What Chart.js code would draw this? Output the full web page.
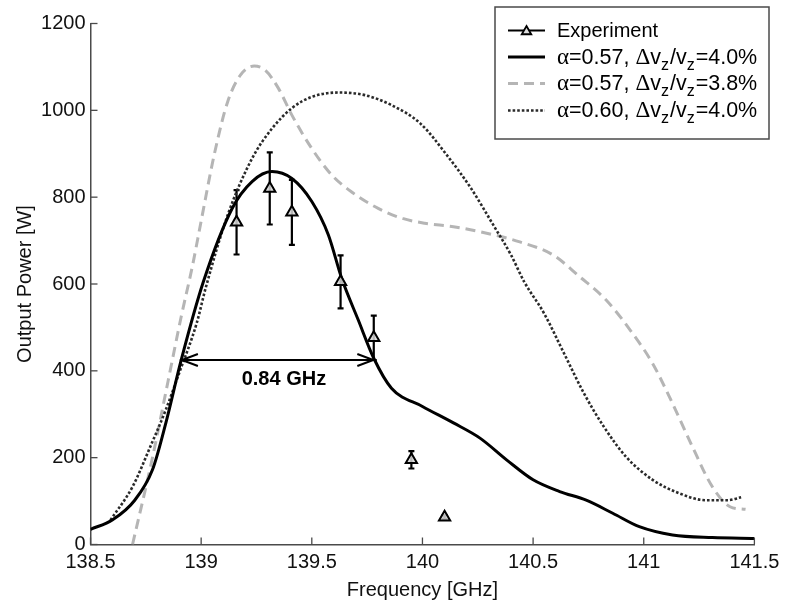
<!DOCTYPE html>
<html><head><meta charset="utf-8">
<script src="https://cdn.jsdelivr.net/npm/chart.js@4.4.1/dist/chart.umd.min.js"></script>
<style>html,body{margin:0;padding:0;background:#fff;}canvas{display:block;}</style>
</head><body>
<canvas id="c" width="787" height="606"></canvas>
<script>
// ---- data ----
const xTickLabels = ['138.5','139','139.5','140','140.5','141','141.5'];
const yTickLabels = ['0','200','400','600','800','1000','1200'];

const expFreq  = [139.16, 139.31, 139.41, 139.63, 139.78, 139.95, 140.10];
const expPower = [742, 820, 765, 605, 476, 195, 63];
const expError = [74, 83, 75, 61, 51, 20, 4];

const solidFreq  = [138.5, 138.6, 138.7, 138.78, 138.84, 138.91, 139.01, 139.14, 139.23, 139.32, 139.41, 139.5, 139.575, 139.635, 139.71, 139.78, 139.86, 140.0, 140.14, 140.26, 140.38, 140.5, 140.62, 140.74, 140.86, 140.98, 141.13, 141.31, 141.5];
const solidPower = [35, 57, 102, 172, 279, 425, 605, 774, 836, 859, 843, 790, 713, 613, 517, 429, 360, 318, 280, 245, 195, 149, 122, 102, 72, 41, 22, 16, 14];

const dashFreq  = [138.69, 138.78, 138.85, 138.91, 138.96, 139.0, 139.06, 139.12, 139.18, 139.24, 139.29, 139.35, 139.41, 139.5, 139.59, 139.68, 139.8, 139.91, 140.01, 140.14, 140.29, 140.44, 140.59, 140.71, 140.83, 140.95, 141.04, 141.13, 141.22, 141.31, 141.39, 141.46];
const dashPower = [0, 200, 375, 525, 640, 745, 900, 1020, 1083, 1102, 1092, 1050, 989, 912, 851, 812, 774, 751, 740, 732, 717, 697, 667, 617, 563, 486, 417, 325, 225, 133, 87, 81];

const dotFreq  = [138.59, 138.69, 138.77, 138.84, 138.9, 138.98, 139.02, 139.12, 139.23, 139.32, 139.41, 139.5, 139.62, 139.74, 139.86, 139.99, 140.11, 140.22, 140.32, 140.4, 140.46, 140.55, 140.64, 140.73, 140.82, 140.92, 141.04, 141.16, 141.28, 141.38, 141.44];
const dotPower = [56, 133, 225, 310, 394, 510, 590, 759, 889, 958, 1005, 1031, 1041, 1035, 1012, 970, 897, 820, 736, 667, 605, 532, 440, 348, 271, 202, 149, 118, 102, 102, 109];

const seriesLabels = ['Experiment', 'α=0.57, Δv_{z}/v_{z}=4.0%', 'α=0.57, Δv_{z}/v_{z}=3.8%', 'α=0.60, Δv_{z}/v_{z}=4.0%'];

const fwhmLow = 138.913, fwhmHigh = 139.778, fwhmLevel = 425;
const fwhmText = '0.84 GHz';
const fwhmTextAt = [139.374, 379];

// ---- helpers ----
const SANS = '"Liberation Sans", Arial, sans-serif';
const SERIF = '"Liberation Serif", "Times New Roman", serif';
const pts = (xs, ys) => xs.map((x, i) => ({x, y: ys[i]}));
const AXIS = '#4a4a4a';

function richParts(s) {
  const parts = []; let i = 0;
  while (i < s.length) {
    if (s.startsWith('_{', i)) { const j = s.indexOf('}', i); parts.push({t: s.slice(i + 2, j), sub: true}); i = j + 1; }
    else {
      const ch = s[i]; const greek = /[\u0370-\u03FF]/.test(ch);
      const last = parts[parts.length - 1];
      if (last && !last.sub && last.greek === greek) last.t += ch; else parts.push({t: ch, sub: false, greek});
      i++;
    }
  }
  return parts;
}
function drawRich(ctx, s, x, y) {
  ctx.textBaseline = 'alphabetic'; ctx.textAlign = 'left';
  const parts = richParts(s);
  const plain = parts.length === 1 && !parts[0].greek && !parts[0].sub;
  for (const p of parts) {
    ctx.font = p.sub ? '16px ' + SANS : (p.greek ? '23px ' + SERIF : (plain ? '20px ' : '21.5px ') + SANS);
    ctx.fillText(p.t, x, y + (p.sub ? 6 : 0));
    x += ctx.measureText(p.t).width + (p.sub ? 1 : 0);
  }
}
function triangle(ctx, cx, cy, r, fill) {
  ctx.beginPath();
  ctx.moveTo(cx, cy - r);
  ctx.lineTo(cx + r * 0.866, cy + r * 0.5);
  ctx.lineTo(cx - r * 0.866, cy + r * 0.5);
  ctx.closePath();
  ctx.fillStyle = fill; ctx.fill(); ctx.stroke();
}

const errorBars = {
  id: 'errorBars',
  beforeDatasetsDraw(chart) {
    const {ctx, scales: {x, y}} = chart;
    ctx.save(); ctx.strokeStyle = '#000'; ctx.lineWidth = 2.2;
    expFreq.forEach((f, i) => {
      const px = x.getPixelForValue(f);
      const top = y.getPixelForValue(expPower[i] + expError[i]);
      const bot = y.getPixelForValue(expPower[i] - expError[i]);
      ctx.beginPath();
      ctx.moveTo(px, top); ctx.lineTo(px, bot);
      ctx.moveTo(px - 3, top); ctx.lineTo(px + 3, top);
      ctx.moveTo(px - 3, bot); ctx.lineTo(px + 3, bot);
      ctx.stroke();
    });
    ctx.restore();
  },
  afterDatasetsDraw(chart) {
    const {ctx, scales: {x, y}} = chart;
    ctx.save();
    const x1 = x.getPixelForValue(fwhmLow), x2 = x.getPixelForValue(fwhmHigh), yy = y.getPixelForValue(fwhmLevel);
    ctx.strokeStyle = '#000'; ctx.lineWidth = 2;
    ctx.beginPath(); ctx.moveTo(x1, yy); ctx.lineTo(x2, yy);
    ctx.moveTo(x1 + 16, yy - 6); ctx.lineTo(x1, yy); ctx.lineTo(x1 + 16, yy + 6);
    ctx.moveTo(x2 - 16, yy - 6); ctx.lineTo(x2, yy); ctx.lineTo(x2 - 16, yy + 6);
    ctx.stroke();
    ctx.fillStyle = '#000'; ctx.font = 'bold 20px ' + SANS; ctx.textAlign = 'center'; ctx.textBaseline = 'middle';
    ctx.fillText(fwhmText, x.getPixelForValue(fwhmTextAt[0]), y.getPixelForValue(fwhmTextAt[1]));
    const {left, bottom} = chart.chartArea;
    ctx.strokeStyle = AXIS; ctx.lineWidth = 1.3;
    x.ticks.forEach(t => { const p = x.getPixelForValue(t.value); ctx.beginPath(); ctx.moveTo(p, bottom); ctx.lineTo(p, bottom - 7); ctx.stroke(); });
    y.ticks.forEach(t => { const p = y.getPixelForValue(t.value); ctx.beginPath(); ctx.moveTo(left, p); ctx.lineTo(left + 7, p); ctx.stroke(); });
    ctx.restore();
  },
  afterDraw(chart) {
    const {ctx} = chart;
    ctx.save();
    ctx.fillStyle = '#fff'; ctx.strokeStyle = AXIS; ctx.lineWidth = 1.5;
    ctx.fillRect(495, 7, 274, 132); ctx.strokeRect(495, 7, 274, 132);
    const ds = chart.data.datasets;
    const baselines = [37, 63.5, 90, 117];
    seriesLabels.forEach((lab, i) => {
      const d = ds[i]; const ly = baselines[i] - 6.5;
      ctx.save();
      ctx.strokeStyle = i === 0 ? '#000' : d.borderColor;
      ctx.lineWidth = i === 0 ? 2 : d.borderWidth;
      ctx.setLineDash(i === 0 ? [] : (d.borderDash || []));
      ctx.beginPath(); ctx.moveTo(508, ly); ctx.lineTo(545, ly); ctx.stroke();
      if (i === 0) { ctx.lineWidth = 1.8; triangle(ctx, 526.5, ly + 1, 5.5, '#ddd'); }
      ctx.restore();
      ctx.fillStyle = '#000';
      drawRich(ctx, lab, 557, baselines[i]);
    });
    ctx.restore();
  }
};

new Chart(document.getElementById('c'), {
  type: 'scatter',
  data: {
    datasets: [
      { label: 'Experiment', data: pts(expFreq, expPower), showLine: false, pointStyle: 'triangle', pointRadius: 6.5,
        pointBorderWidth: 2, borderColor: '#000', backgroundColor: 'rgba(215,215,215,0.85)', order: 0 },
      { label: 'α=0.57, Δvz/vz=4.0%', data: pts(solidFreq, solidPower), showLine: true, borderColor: '#000', borderWidth: 3,
        pointRadius: 0, cubicInterpolationMode: 'monotone', order: 1 },
      { label: 'α=0.57, Δvz/vz=3.8%', data: pts(dashFreq, dashPower), showLine: true, borderColor: '#b5b5b5', borderWidth: 3,
        borderDash: [10, 6], pointRadius: 0, cubicInterpolationMode: 'monotone', order: 3 },
      { label: 'α=0.60, Δvz/vz=4.0%', data: pts(dotFreq, dotPower), showLine: true, borderColor: '#2a2a2a', borderWidth: 2.6,
        borderDash: [2.6, 2], pointRadius: 0, cubicInterpolationMode: 'monotone', order: 2 }
    ]
  },
  options: {
    responsive: false, animation: false, devicePixelRatio: 1,
    layout: { padding: { left: 0, right: 32.6, top: 23.5, bottom: 0 } },
    plugins: { legend: { display: false }, tooltip: { enabled: false } },
    scales: {
      x: {
        type: 'linear', min: 138.5, max: 141.5,
        grid: { display: false, drawTicks: false },
        border: { display: true, color: AXIS, width: 1.5 },
        ticks: { stepSize: 0.5, padding: 6, color: '#111', font: { family: SANS, size: 20 }, maxRotation: 0,
                 callback: (v, i) => xTickLabels[i] },
        title: { display: true, text: 'Frequency [GHz]', color: '#111', font: { family: SANS, size: 20 }, padding: { top: 0, bottom: 4 } },
        afterFit: s => { s.height = 61.5; s.paddingLeft = 0; s.paddingRight = 0; }
      },
      y: {
        min: 0, max: 1200,
        grid: { display: false, drawTicks: false },
        border: { display: true, color: AXIS, width: 1.5 },
        ticks: { stepSize: 200, padding: 5, color: '#111', font: { family: SANS, size: 20 },
                 callback: (v, i) => yTickLabels[i] },
        title: { display: true, text: 'Output Power [W]', color: '#111', font: { family: SANS, size: 20 }, padding: { top: 13, bottom: 0 } },
        afterFit: s => { s.width = 90.5; }
      }
    }
  },
  plugins: [errorBars]
});
</script>
</body></html>
